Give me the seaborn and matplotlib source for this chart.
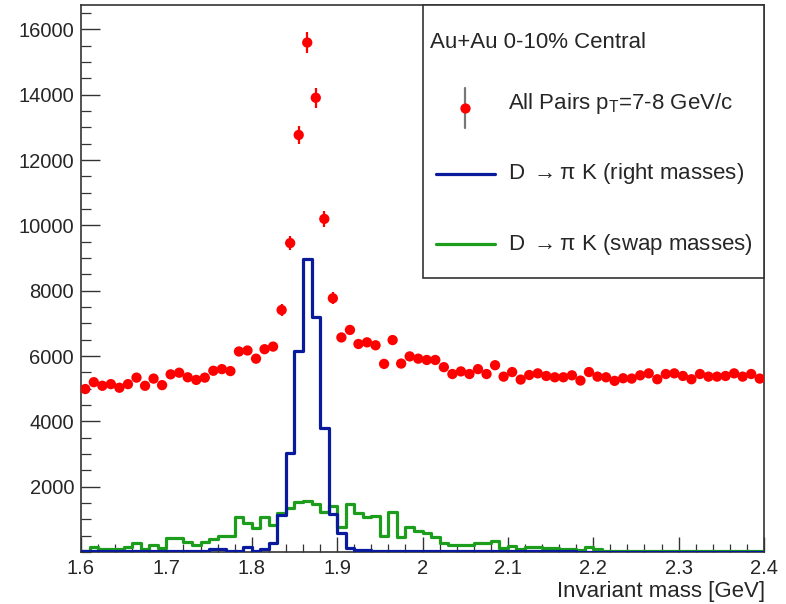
import numpy as np
import pandas as pd
import matplotlib
matplotlib.use("Agg")
import matplotlib.pyplot as plt
from matplotlib.lines import Line2D
from matplotlib.patches import Rectangle
from matplotlib.ticker import MultipleLocator, FixedLocator, FuncFormatter
import seaborn as sns

# ---- histogram binning: 80 bins of 10 MeV between 1.6 and 2.4 GeV ----
mass_range = (1.6, 2.4)
n_bins = 80
bin_edges = np.linspace(mass_range[0], mass_range[1], n_bins + 1)
bin_centers = np.round((bin_edges[:-1] + bin_edges[1:]) / 2, 4)

# all K-pi pairs, 7-8 GeV/c
all_pairs = [
    4990, 5200, 5090, 5140, 5030, 5140, 5340, 5090, 5310, 5110,
    5440, 5490, 5350, 5270, 5340, 5550, 5600, 5540, 6140, 6170,
    5920, 6210, 6290, 7410, 9460, 12770, 15600, 13910, 10200, 7770,
    6570, 6800, 6370, 6420, 6330, 5760, 6490, 5770, 5990, 5920,
    5880, 5880, 5660, 5450, 5530, 5450, 5600, 5450, 5720, 5370,
    5510, 5280, 5420, 5470, 5390, 5350, 5350, 5410, 5250, 5510,
    5370, 5350, 5240, 5320, 5310, 5410, 5470, 5290, 5450, 5470,
    5390, 5290, 5450, 5370, 5370, 5390, 5470, 5370, 5450, 5310,
]
all_pairs_err = [
    120, 120, 120, 120, 120, 120, 120, 120, 120, 120,
    120, 120, 120, 120, 120, 120, 120, 120, 130, 130,
    130, 130, 130, 170, 220, 290, 330, 300, 250, 180,
    130, 130, 130, 130, 130, 120, 130, 120, 120, 120,
    120, 120, 120, 120, 120, 120, 120, 120, 120, 120,
    120, 120, 120, 120, 120, 120, 120, 120, 120, 120,
    120, 120, 120, 120, 120, 120, 120, 120, 120, 120,
    120, 120, 120, 120, 120, 120, 120, 120, 120, 120,
]
# D -> pi K with correct mass assignment
right_masses = [
    30, 30, 30, 30, 30, 30, 30, 30, 30, 30,
    30, 30, 30, 30, 30, 80, 80, 40, 40, 160,
    40, 80, 285, 1130, 3020, 6160, 8970, 7200, 3790, 1150,
    570, 110, 60, 60, 30, 30, 30, 30, 30, 30,
    30, 30, 30, 30, 30, 30, 30, 30, 30, 30,
    30, 30, 30, 30, 30, 30, 30, 20, 0, 0,
    0, 0, 0, 0, 0, 0, 0, 0, 0, 0,
    0, 0, 0, 0, 0, 0, 0, 0, 0, 0,
]
# D -> pi K with swapped mass assignment
swap_masses = [
    20, 160, 80, 100, 80, 160, 265, 80, 205, 110,
    420, 420, 305, 205, 305, 390, 490, 490, 1080, 900,
    725, 1060, 825, 1205, 1340, 1540, 1560, 1460, 1235, 1410,
    775, 1470, 1185, 1060, 1115, 490, 1235, 450, 755, 655,
    570, 450, 285, 215, 215, 215, 265, 265, 325, 135,
    195, 100, 165, 165, 110, 130, 80, 80, 60, 165,
    80, 30, 30, 30, 30, 30, 30, 30, 30, 30,
    30, 30, 30, 30, 30, 30, 30, 30, 30, 30,
]

header_text = "Au+Au 0-10% Central"
legend_labels = [
    r"All Pairs p$_\mathregular{T}$=7-8 GeV/c",
    r"D $\rightarrow$π K (right masses)",
    r"D $\rightarrow$π K (swap masses)",
]
x_title = "Invariant mass [GeV]"
y_tick_values = [2000, 4000, 6000, 8000, 10000, 12000, 14000, 16000]

RED = "#ff0000"
BLUE = "#0a1a9c"
GREEN = "#1c9e1c"
FRAME = "#333333"

sns.set_theme(style="white")
plt.rcParams["font.family"] = ["Liberation Sans", "DejaVu Sans"]
plt.rcParams["mathtext.fontset"] = "custom"
plt.rcParams["mathtext.rm"] = "Liberation Sans"
plt.rcParams["mathtext.it"] = "Liberation Sans:italic"
plt.rcParams["mathtext.bf"] = "Liberation Sans:bold"
plt.rcParams["mathtext.fallback"] = "cm"

W, H = 786, 604
fig = plt.figure(figsize=(W / 100, H / 100), dpi=100)
fig.patch.set_facecolor("white")


def fx(x):
    return x / W


def fy(y):
    return 1 - y / H


ax = fig.add_axes([fx(81), fy(552), (764 - 81) / W, (552 - 5) / H])
ax.set_facecolor("white")

hist_df = pd.DataFrame({"mass": bin_centers, "right": right_masses, "swap": swap_masses})
sns.histplot(data=hist_df, x="mass", weights="swap", bins=n_bins, binrange=mass_range,
             element="step", fill=False, color=GREEN, linewidth=2.3, zorder=3, ax=ax)
sns.histplot(data=hist_df, x="mass", weights="right", bins=n_bins, binrange=mass_range,
             element="step", fill=False, color=BLUE, linewidth=2.3, zorder=3.1, ax=ax)

ax.errorbar(bin_centers, all_pairs, yerr=all_pairs_err, fmt="none",
            ecolor=RED, elinewidth=1.6, capsize=0, zorder=4)
pairs_df = pd.DataFrame({"mass": bin_centers, "count": all_pairs})
sns.scatterplot(data=pairs_df, x="mass", y="count", color=RED, s=55,
                edgecolor="none", linewidth=0, zorder=5, ax=ax)

ax.set_xlim(*mass_range)
ax.set_ylim(0, 16750)

ax.xaxis.set_major_locator(MultipleLocator(0.1))
ax.xaxis.set_minor_locator(MultipleLocator(0.02))
ax.xaxis.set_major_formatter(FuncFormatter(lambda v, p: f"{v:g}"))
ax.yaxis.set_major_locator(FixedLocator(y_tick_values))
ax.yaxis.set_minor_locator(MultipleLocator(500))
ax.yaxis.set_major_formatter(FuncFormatter(lambda v, p: f"{int(v)}"))

ax.tick_params(axis="x", which="major", direction="in", length=11, width=1,
               color=FRAME, labelsize=14.5, pad=5, top=False)
ax.tick_params(axis="x", which="minor", direction="in", length=5.5, width=0.9,
               color=FRAME, top=False)
ax.tick_params(axis="y", which="major", direction="in", length=14, width=1,
               color=FRAME, labelsize=14.5, pad=5, right=False)
ax.tick_params(axis="y", which="minor", direction="in", length=7, width=0.9,
               color=FRAME, right=False)
ax.xaxis.set_ticks_position("bottom")
ax.yaxis.set_ticks_position("left")

for side in ["left", "bottom", "top", "right"]:
    ax.spines[side].set_visible(True)
    ax.spines[side].set_color(FRAME)
    ax.spines[side].set_linewidth(1.2)

ax.set_ylabel("")
ax.set_xlabel("")
fig.text(fx(765), fy(591), x_title, fontsize=16, ha="right", va="center")

# ---- legend panel ----
fig.add_artist(Rectangle((fx(423), fy(278)), (764 - 423) / W, (278 - 5) / H,
                         transform=fig.transFigure, facecolor="white",
                         edgecolor=FRAME, linewidth=1.2, zorder=10))
fig.text(fx(430), fy(42), header_text, fontsize=16, ha="left", va="center", zorder=11)

fig.add_artist(Line2D([fx(465), fx(465)], [fy(88), fy(128)], transform=fig.transFigure,
                      color="#777777", linewidth=1.6, zorder=11))
fig.add_artist(Line2D([fx(465)], [fy(108)], transform=fig.transFigure, marker="o",
                      markersize=7.4, color=RED, markeredgewidth=0, linestyle="none", zorder=12))
fig.text(fx(508), fy(104), legend_labels[0], fontsize=16, ha="left", va="center", zorder=11)

fig.add_artist(Line2D([fx(436), fx(495)], [fy(174), fy(174)], transform=fig.transFigure,
                      color=BLUE, linewidth=2.3, zorder=11))
fig.text(fx(508), fy(174), legend_labels[1], fontsize=16, ha="left", va="center", zorder=11)

fig.add_artist(Line2D([fx(436), fx(495)], [fy(244), fy(244)], transform=fig.transFigure,
                      color=GREEN, linewidth=2.3, zorder=11))
fig.text(fx(508), fy(244), legend_labels[2], fontsize=16, ha="left", va="center", zorder=11)

fig.savefig("out.png", dpi=100, facecolor="white")
